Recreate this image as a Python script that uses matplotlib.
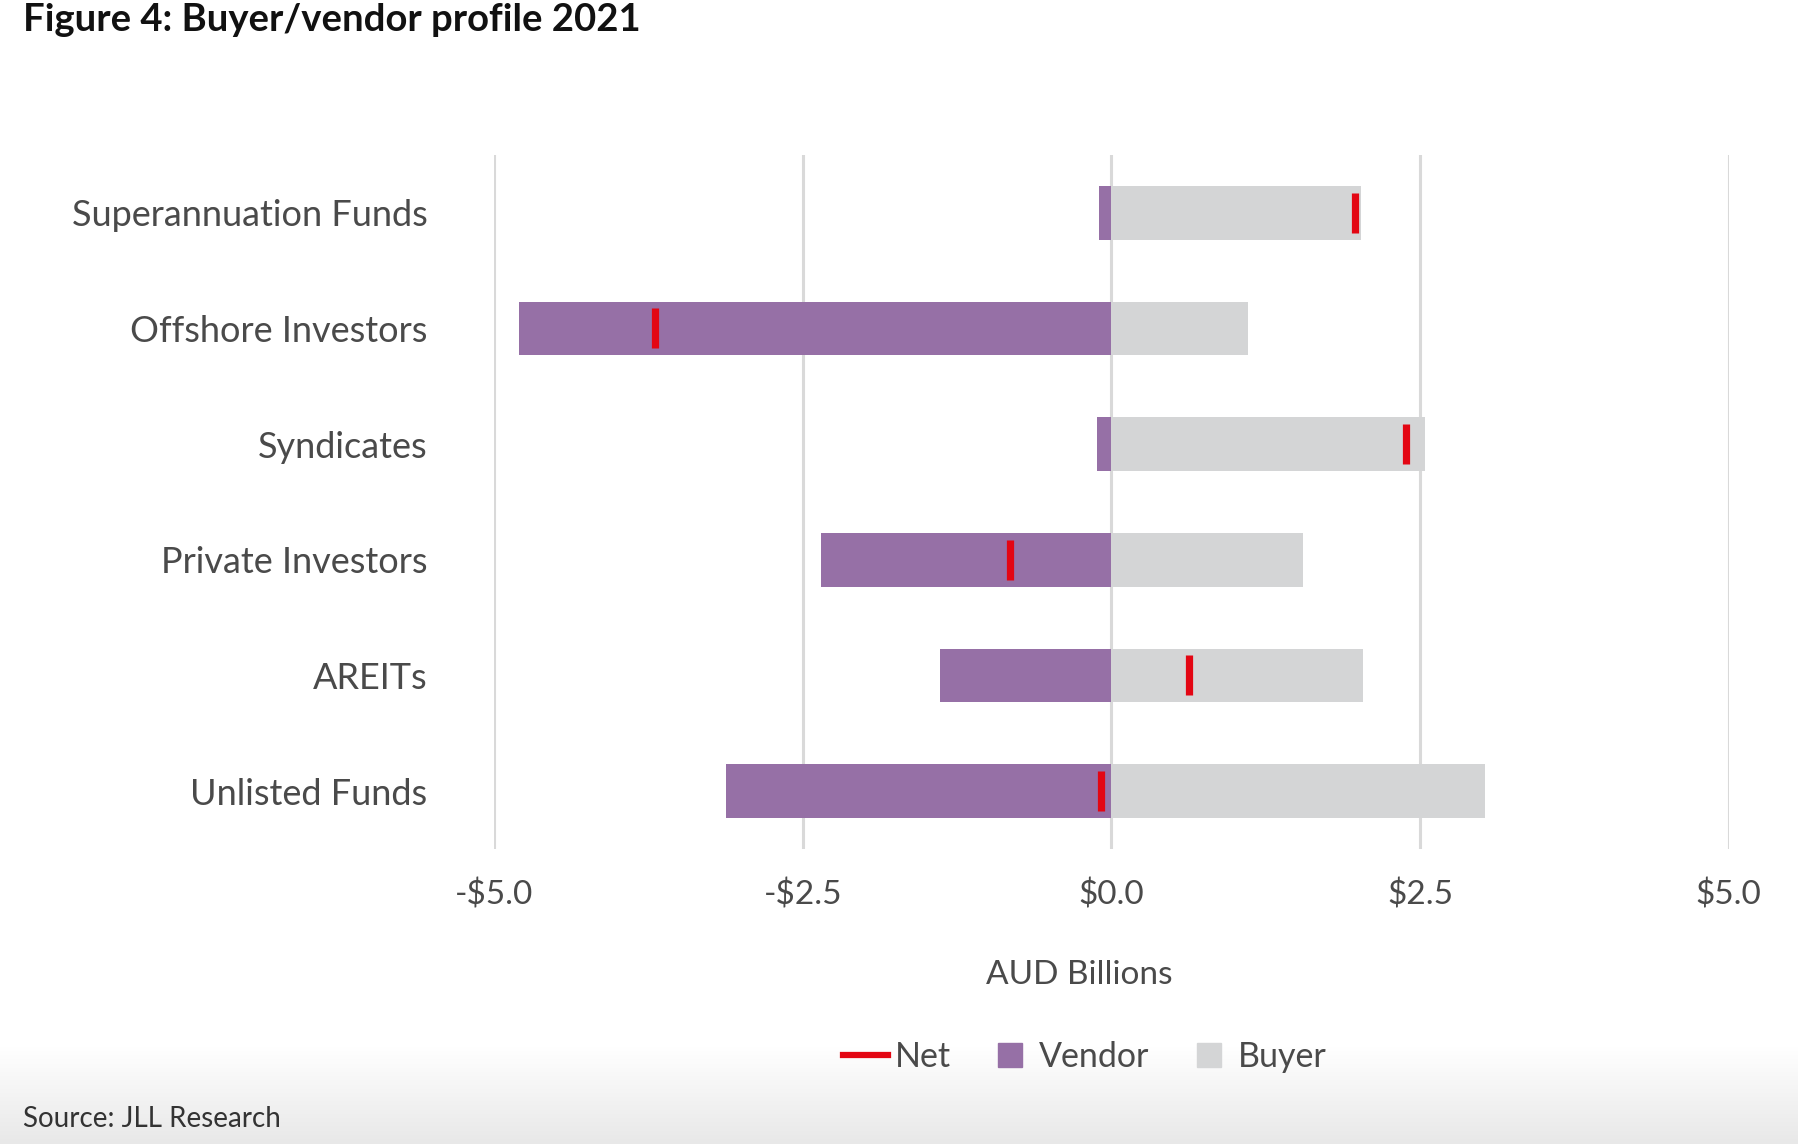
import numpy as np
import matplotlib.pyplot as plt
from matplotlib.lines import Line2D
from matplotlib.colors import LinearSegmentedColormap

plt.rcParams['font.family'] = ['Lato', 'DejaVu Sans']

# data (AUD billions)
categories = ["Superannuation Funds", "Offshore Investors", "Syndicates",
              "Private Investors", "AREITs", "Unlisted Funds"]
vendor = [-0.10, -4.80, -0.12, -2.35, -1.39, -3.12]
buyer = [2.02, 1.11, 2.54, 1.55, 2.04, 3.03]
net = [1.97, -3.70, 2.39, -0.82, 0.63, -0.08]
xticks = [-5.0, -2.5, 0.0, 2.5, 5.0]

purple = "#9670a6"
grey = "#d4d5d6"
red = "#e30613"
txt = "#4a4a4a"

fig = plt.figure(figsize=(17.98, 11.44), dpi=100)

# light grey gradient at the bottom of the figure
bg = fig.add_axes([0, 0, 1, 0.085], zorder=-5)
grad = np.linspace(0, 1, 100).reshape(-1, 1)
bg.imshow(grad, aspect='auto', origin='lower', extent=[0, 1, 0, 1],
          cmap=LinearSegmentedColormap.from_list("g", ["#e8e8e8", "#ffffff"]))
bg.axis('off')

ax = fig.add_axes([0.2748, 0.2579, 0.6866, 0.6066])
y = np.arange(len(categories))
ax.barh(y, vendor, height=0.466, color=purple, zorder=2)
ax.barh(y, buyer, height=0.466, color=grey, zorder=2)
ax.plot(net, y, ls='none', marker='|', ms=29, mew=5.2, color=red, zorder=3)

ax.set_xlim(-5, 5)
ax.set_ylim(-0.5, 5.5)
ax.invert_yaxis()
ax.set_xticks(xticks)
ax.set_xticklabels([("-$" if v < 0 else "$") + f"{abs(v):.1f}" for v in xticks])
ax.set_yticks(y)
ax.set_yticklabels(categories)
ax.grid(axis='x', color="#d9d9d9", lw=2.2)
ax.set_axisbelow(True)
for s in ax.spines.values():
    s.set_visible(False)
ax.tick_params(axis='both', length=0, labelcolor=txt)
ax.tick_params(axis='x', pad=22, labelsize=24)
ax.tick_params(axis='y', pad=48, labelsize=26)

fig.text(0.6005, 1 - 975 / 1144, "AUD Billions", ha='center', va='center',
         fontsize=24, color=txt)

fig.text(0.0128, 1 - 20 / 1144, "Figure 4: Buyer/vendor profile 2021", ha='left',
         va='center', fontsize=27.5, fontweight='bold', color="#111111")

fig.text(0.0128, 1 - 1119 / 1144, "Source: JLL Research", ha='left', va='center',
         fontsize=20, color="#333333")

handles = [Line2D([0], [0], color=red, lw=4.5),
           Line2D([0], [0], ls='none', marker='s', ms=17, color=purple),
           Line2D([0], [0], ls='none', marker='s', ms=17, color=grey)]
fig.legend(handles, ["Net", "Vendor", "Buyer"], loc='center',
           bbox_to_anchor=(1085 / 1798, 1 - 1057 / 1144), ncol=3, frameon=False,
           fontsize=24.5, labelcolor=txt, handlelength=1.3, handletextpad=0.2,
           columnspacing=1.1)

fig.savefig("out.png", dpi=100)
